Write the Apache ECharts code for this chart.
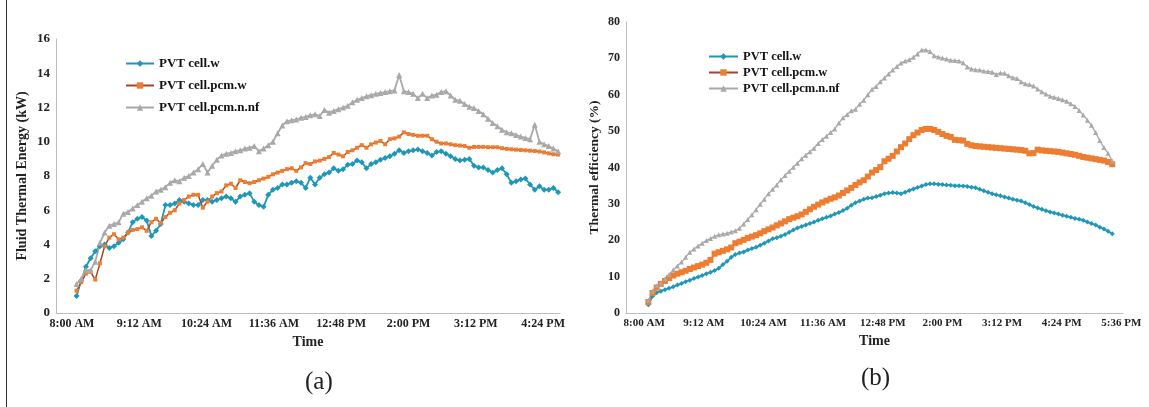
<!DOCTYPE html>
<html><head><meta charset="utf-8">
<script src="https://cdn.jsdelivr.net/npm/echarts@6/dist/echarts.min.js"></script>
<style>html,body{margin:0;padding:0;background:#fff}#c{width:1149px;height:407px}</style>
</head><body><div id="c"></div>
<script>
// time in minutes after midnight
const energyStart = 485, energyStep = 5;
const energyW = [
1.0,1.9,2.7,3.2,3.6,3.9,4.0,3.8,3.9,4.1,
4.3,4.7,5.3,5.5,5.6,5.4,4.5,4.8,5.2,6.3,
6.3,6.4,6.6,6.5,6.4,6.3,6.3,6.6,6.6,6.5,
6.6,6.7,6.8,6.7,6.5,6.8,6.9,7.0,6.5,6.3,
6.2,6.9,7.2,7.3,7.5,7.5,7.6,7.7,7.6,7.3,
7.9,7.5,7.9,8.1,8.2,8.45,8.3,8.4,8.65,8.7,
8.9,8.8,8.45,8.7,8.8,8.95,9.05,9.15,9.3,9.5,
9.35,9.45,9.5,9.55,9.45,9.35,9.2,9.4,9.45,9.3,
9.15,9.0,8.9,8.95,9.0,8.6,8.5,8.5,8.35,8.2,
8.35,8.45,8.1,7.6,7.7,7.8,7.85,7.5,7.2,7.4,
7.2,7.2,7.3,7.05];
const energyPcmW = [
1.3,1.8,2.3,2.4,1.95,2.9,3.9,4.4,4.6,4.3,
4.4,4.7,4.85,4.9,5.0,4.8,5.3,5.5,5.25,5.6,
5.85,6.0,6.4,6.6,6.8,6.9,6.9,6.15,6.5,6.8,
7.0,7.1,7.45,7.55,7.3,7.75,7.65,7.58,7.65,7.75,
7.85,7.95,8.1,8.2,8.3,8.4,8.45,8.3,8.5,8.75,
8.7,8.85,8.9,9.0,9.1,9.35,9.25,9.15,9.4,9.5,
9.65,9.8,9.65,9.85,9.95,10.05,9.85,10.15,10.2,10.3,
10.55,10.45,10.4,10.35,10.35,10.35,10.15,10.0,9.9,9.9,
9.85,9.8,9.78,9.75,9.65,9.7,9.7,9.7,9.68,9.68,
9.68,9.62,9.58,9.56,9.54,9.52,9.5,9.48,9.46,9.43,
9.38,9.32,9.27,9.25];
const energyPcmNnf = [
1.7,2.0,2.5,2.5,3.0,4.1,4.7,5.1,5.2,5.3,
5.8,5.9,6.1,6.3,6.5,6.7,6.85,7.1,7.2,7.35,
7.6,7.75,7.7,7.9,8.0,8.2,8.4,8.7,8.2,8.6,
8.95,9.2,9.3,9.35,9.45,9.5,9.6,9.65,9.75,9.45,
9.6,9.8,10.0,10.5,10.95,11.2,11.25,11.3,11.4,11.45,
11.55,11.6,11.5,11.85,11.7,11.8,11.9,12.0,12.1,12.3,
12.45,12.55,12.65,12.72,12.8,12.85,12.9,12.95,13.0,13.9,
12.95,12.9,12.8,12.55,12.8,12.55,12.7,12.75,12.9,12.95,
12.7,12.45,12.4,12.2,12.05,11.97,11.8,11.6,11.35,11.1,
10.9,10.7,10.55,10.5,10.4,10.3,10.22,10.15,11.0,10.0,
9.85,9.75,9.6,9.45];

const effStart = 485, effStep = 5;
const effW = [
2.3,4.6,5.6,6.0,6.4,6.8,7.2,7.7,8.1,8.6,
9.0,9.5,9.9,10.3,10.8,11.2,11.7,12.3,13.3,14.2,
15.3,16.1,16.5,16.8,17.3,17.7,18.1,18.6,19.2,19.8,
20.4,20.7,21.1,21.6,22.2,22.8,23.4,23.8,24.2,24.6,
25.0,25.5,25.9,26.3,26.7,27.2,27.6,28.2,28.8,29.6,
30.3,30.8,31.3,31.6,31.7,32.0,32.4,32.8,33.0,33.1,
33.0,32.8,33.2,33.7,34.1,34.5,34.9,35.3,35.5,35.5,
35.4,35.3,35.2,35.1,35.0,35.0,34.9,34.8,34.6,34.4,
34.0,33.6,33.2,32.8,32.5,32.2,31.9,31.6,31.3,31.0,
30.8,30.3,29.8,29.3,28.9,28.5,28.1,27.8,27.5,27.2,
26.9,26.6,26.3,26.0,25.8,25.5,25.0,24.6,24.2,23.6,
23.1,22.5,21.8];
const effPcmW = [
3.0,5.5,7.0,8.0,8.8,9.6,10.3,10.8,11.2,11.6,
12.1,12.5,12.9,13.3,13.8,14.6,16.3,16.7,17.1,17.5,
18.0,19.2,19.6,20.1,20.6,21.0,21.4,21.9,22.5,23.0,
23.5,24.1,24.6,25.2,25.8,26.2,26.6,27.1,27.8,28.5,
29.2,29.8,30.4,30.9,31.4,31.8,32.3,33.0,33.7,34.4,
35.2,35.9,36.5,37.5,38.6,39.3,40.1,41.7,42.4,43.2,
44.4,45.6,46.6,47.8,48.9,49.6,50.3,50.6,50.6,50.3,
49.8,49.2,48.7,48.4,47.6,47.5,47.4,46.5,46.1,45.9,
45.8,45.7,45.6,45.5,45.4,45.3,45.2,45.1,45.0,44.9,
44.8,44.6,43.9,44.0,44.9,44.7,44.6,44.5,44.4,44.3,
44.1,43.9,43.7,43.5,43.2,42.9,42.7,42.5,42.3,42.1,
41.9,41.5,40.9];
const effPcmNnf = [
3.5,6.0,7.5,8.2,9.4,10.6,11.8,12.9,14.0,15.3,
16.7,17.6,18.4,19.2,19.9,20.5,21.1,21.5,21.7,21.9,
22.3,22.6,23.3,24.5,25.7,27.0,28.4,29.9,31.3,32.8,
34.0,35.2,36.6,37.8,39.0,40.1,41.2,42.4,43.4,44.3,
45.3,46.6,47.7,48.6,49.6,50.6,52.2,53.7,54.6,55.6,
56.0,57.4,58.5,60.0,61.5,62.3,63.6,64.6,65.7,66.8,
67.8,68.7,69.3,69.6,70.3,71.2,72.3,72.3,71.9,70.7,
70.4,70.1,69.8,69.5,69.4,69.3,68.8,67.6,67.1,66.9,
66.8,66.5,66.4,66.2,65.6,66.0,65.9,65.2,64.7,64.5,
63.6,63.0,62.8,62.4,61.6,60.8,60.2,59.6,59.3,59.0,
58.6,58.2,57.5,56.8,55.7,54.4,53.0,51.6,49.6,47.4,
45.5,43.9,41.8];

const tickTimesA = [480,552,624,696,768,840,912,984];
const tickTimesB = [480,552,624,696,768,840,912,984,1056];
const seriesNames = ['PVT cell.w','PVT cell.pcm.w','PVT cell.pcm.n.nf'];
const panelLabels = ['(a)','(b)'];
const yNameA = 'Fluid Thermal Energy (kW)';
const yNameB = 'Thermal efficiency (%)';
const xName = 'Time';

const FONT = 'Liberation Serif';
const BLUE = '#1f97b6', ORANGE = '#ED7D31', ORANGE_LINE = '#a8432a', GRAY = '#a9a9a9';

function fmtTime(m){
  const h = Math.floor(m/60), mm = m%60;
  const ap = h >= 12 ? 'PM' : 'AM';
  let h12 = h % 12; if (h12 === 0) h12 = 12;
  return h12 + ':' + String(mm).padStart(2,'0') + ' ' + ap;
}
function pairs(start, step, vals){ return vals.map((v,i)=>[start+i*step, v]); }

const axisLineStyle = {show:true, lineStyle:{color:'#bdbdbd', width:1}};
function xAxisCfg(idx, min, max, ticks, fs){
  return {type:'value', gridIndex:idx, min:min, max:max,
    axisLine:axisLineStyle, axisTick:{show:false}, splitLine:{show:false},
    axisLabel:{customValues:ticks, formatter:v=>fmtTime(v), fontFamily:FONT, fontWeight:'bold', fontSize:fs, color:'#222', margin:5},
    name:xName, nameLocation:'middle', nameGap:19,
    nameTextStyle:{fontFamily:FONT, fontWeight:'bold', fontSize:14, color:'#222'}};
}
function yAxisCfg(idx, max, interval, name, gap, fs, nfs){
  return {type:'value', gridIndex:idx, min:0, max:max, interval:interval,
    axisLine:axisLineStyle, axisTick:{show:false}, splitLine:{show:false},
    axisLabel:{fontFamily:FONT, fontWeight:'bold', fontSize:fs, color:'#222', margin:6},
    name:name, nameLocation:'middle', nameRotate:90, nameGap:gap,
    nameTextStyle:{fontFamily:FONT, fontWeight:'bold', fontSize:nfs, color:'#222'}};
}
function mk(name, idx, data, sym, size, color, lineColor, lw){
  return {name:name, type:'line', xAxisIndex:idx, yAxisIndex:idx, data:data,
    symbol:sym, symbolSize:size, showSymbol:true, animation:false,
    lineStyle:{color:lineColor, width:lw}, itemStyle:{color:color}};
}

const chart = echarts.init(document.getElementById('c'), null, {renderer:'canvas'});
chart.setOption({
  backgroundColor:'#fff',
  animation:false,
  title:[
    {text:panelLabels[0], left:300, top:365, textStyle:{fontFamily:FONT, fontWeight:'normal', fontSize:25, color:'#222'}},
    {text:panelLabels[1], left:856, top:361, textStyle:{fontFamily:FONT, fontWeight:'normal', fontSize:25, color:'#222'}}
  ],
  grid:[
    {left:56, top:39, width:504, height:274},
    {left:626, top:22, width:497, height:291}
  ],
  legend:[
    {data:seriesNames, orient:'vertical', left:120, top:52, itemWidth:28, itemHeight:8, itemGap:9,
     textStyle:{fontFamily:FONT, fontWeight:'bold', fontSize:13, color:'#111'}},
    {data:seriesNames, orient:'vertical', left:703, top:45, itemWidth:29, itemHeight:8, itemGap:3,
     textStyle:{fontFamily:FONT, fontWeight:'bold', fontSize:12.5, color:'#111'}}
  ],
  xAxis:[
    xAxisCfg(0, 463, 1002, tickTimesA, 12),
    xAxisCfg(1, 458, 1058, tickTimesB, 11)
  ],
  yAxis:[
    yAxisCfg(0, 16, 2, yNameA, 27, 13, 14),
    yAxisCfg(1, 80, 10, yNameB, 24, 12, 13.5)
  ],
  graphic:[
    {type:'line', shape:{x1:6.5, y1:0, x2:6.5, y2:407}, style:{stroke:'#333', lineWidth:1}}
  ],
  series:[
    mk(seriesNames[0], 0, pairs(energyStart, energyStep, energyW), 'diamond', 6, BLUE, BLUE, 1.8),
    mk(seriesNames[1], 0, pairs(energyStart, energyStep, energyPcmW), 'rect', 4, ORANGE, ORANGE_LINE, 1.5),
    mk(seriesNames[2], 0, pairs(energyStart, energyStep, energyPcmNnf), 'triangle', 6, GRAY, GRAY, 1.8),
    mk(seriesNames[0], 1, pairs(effStart, effStep, effW), 'diamond', 5, BLUE, BLUE, 1.8),
    mk(seriesNames[1], 1, pairs(effStart, effStep, effPcmW), 'rect', 6, ORANGE, ORANGE, 1.8),
    mk(seriesNames[2], 1, pairs(effStart, effStep, effPcmNnf), 'triangle', 5, GRAY, GRAY, 1.3)
  ]
});
</script></body></html>
